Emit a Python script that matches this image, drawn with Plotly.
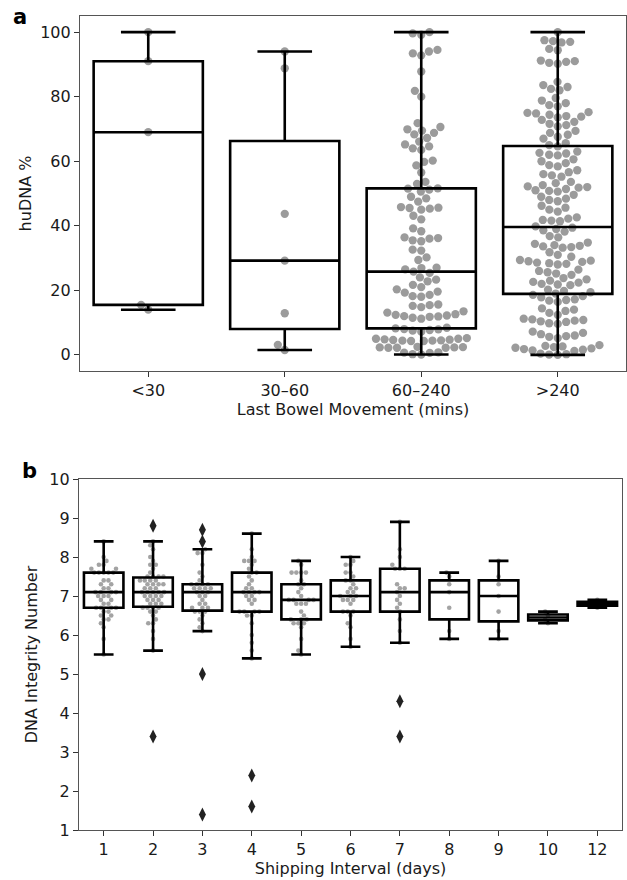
import math
import numpy as np
import plotly.graph_objects as go

# ---------------- data ----------------
cats_a = ["<30", "30–60", "60–240", ">240"]
a_lt30 = [100.0, 91.0, 69.0, 15.5, 14.0]
a_30_60 = [94.0, 88.8, 43.7, 29.2, 12.9, 3.1, 1.5]
a_60_240 = [
    100.0, 99.6, 99.2,
    94.5, 94.0, 93.4, 92.8,
    87.8,
    81.8, 80.0,
    71.8, 70.6, 69.9, 69.5, 68.8, 68.3, 67.2, 66.1, 65.2, 64.6, 64.0, 63.5,
    60.2, 59.8, 58.7, 56.5,
    53.6, 53.0, 51.5,
    51.6, 51.2, 50.6,
    49.0, 48.5, 47.5,
    45.8, 45.6, 45.5, 45.3, 45.0,
    43.1, 42.0,
    39.2, 38.3,
    36.4, 36.2, 36.0, 35.5, 35.2,
    32.6, 32.3,
    30.2, 29.4,
    27.0, 26.9, 26.5, 25.8, 25.4,
    24.0, 23.3, 22.8, 21.7,
    21.0, 20.3, 19.6, 19.3, 18.6, 18.2, 18.0,
    15.6, 15.4, 15.2, 14.8, 13.5, 13.1, 12.6, 12.4, 12.2, 12.0, 11.9, 11.8, 11.5, 11.2,
    8.4, 8.2, 8.0, 7.9, 7.7, 7.5, 7.2,
    5.2, 5.0, 5.0, 4.8, 4.7, 4.6, 4.5, 4.4, 4.4, 4.3, 4.3,
    2.5, 2.4, 2.3, 2.3, 2.2, 2.2, 2.2,
    0.8, 0.7, 0.6, 0.2, 0.1,
]
a_gt240 = [
    100.0,
    97.5, 97.2, 97.0, 96.8,
    94.8, 94.4,
    91.2, 91.0, 90.8, 90.5, 90.2,
    84.6,
    83.6, 83.0, 82.4, 82.0,
    79.6, 78.8, 78.0, 77.4, 77.0,
    75.2, 75.0, 74.8, 74.4, 74.0, 73.8, 73.6,
    72.8, 72.2, 71.6, 71.2, 70.8,
    69.4, 68.8, 68.2, 67.6, 67.0,
    65.6, 65.0,
    64.6, 63.0, 62.6, 62.4, 62.0, 61.8,
    60.6, 60.0, 59.4, 58.8, 58.4,
    57.2, 56.6, 56.0, 55.6, 55.2,
    53.6, 53.2, 52.6, 52.2, 51.8,
    52.0, 51.4, 51.0, 50.8, 50.6,
    49.6, 49.0, 48.4, 48.0, 47.6,
    46.2, 45.6, 45.0, 44.4,
    42.6, 42.2, 41.8, 41.6, 41.4, 39.8,
    39.4, 39.0, 38.6, 38.2,
    36.8, 36.4,
    34.8, 34.4, 34.0, 33.8, 33.6, 33.4, 33.2,
    31.8, 31.0, 30.4,
    29.4, 29.2, 29.0, 28.8, 28.6, 28.4, 28.2, 28.0,
    26.4, 26.0, 25.6, 25.2, 24.8,
    23.8, 23.4, 23.0, 22.6, 22.4, 22.0, 21.8, 21.6,
    20.2, 19.8, 19.4, 19.0, 18.6, 18.2, 17.8,
    17.2, 17.0, 16.8, 16.4,
    14.4, 14.0, 13.6, 13.0, 12.4,
    11.2, 11.0, 10.8, 10.6, 10.4, 10.2, 9.8, 9.6,
    7.2, 6.8, 6.4, 6.0, 5.8, 5.6, 5.2,
    3.0, 2.8, 2.6, 2.4, 2.2, 2.0, 1.8, 1.6, 1.4, 1.2,
    0.4, 0.2, 0.1, 0.0,
]
groups_a = [a_lt30, a_30_60, a_60_240, a_gt240]
a_yticks = [0, 20, 40, 60, 80, 100]

cats_b = ["1", "2", "3", "4", "5", "6", "7", "8", "9", "10", "12"]
b_d1 = [8.4, 8.0, 7.9, 7.8, 7.8, 7.7, 7.7, 7.6, 7.6, 7.6, 7.6, 7.6, 7.4, 7.4, 7.3, 7.3,
        7.2, 7.2, 7.1, 7.1, 7.1, 7.1, 7.0, 7.0, 7.0, 6.9, 6.9, 6.8, 6.8, 6.7, 6.7, 6.7,
        6.7, 6.6, 6.6, 6.5, 6.5, 6.4, 6.4, 6.3, 6.2, 5.9, 5.5]
b_d2 = [8.8, 8.4, 8.3, 8.2, 8.0, 7.9, 7.8, 7.8, 7.7, 7.6, 7.5, 7.5, 7.5, 7.5, 7.4, 7.4,
        7.4, 7.4, 7.3, 7.3, 7.3, 7.3, 7.2, 7.2, 7.2, 7.1, 7.1, 7.1, 7.1, 7.1, 7.0, 7.0,
        7.0, 7.0, 6.9, 6.9, 6.9, 6.8, 6.8, 6.8, 6.7, 6.7, 6.7, 6.7, 6.6, 6.6, 6.5, 6.4,
        6.3, 6.3, 6.1, 5.9, 5.6, 3.4]
b_d3 = [8.7, 8.4, 8.2, 8.1, 8.1, 7.8, 7.6, 7.5, 7.4, 7.3, 7.3, 7.3, 7.3, 7.2, 7.2, 7.2,
        7.2, 7.1, 7.1, 7.1, 7.0, 7.0, 6.9, 6.8, 6.8, 6.7, 6.7, 6.7, 6.6, 6.6, 6.6, 6.5,
        6.4, 6.3, 6.2, 6.1, 5.0, 1.4]
b_d4 = [8.6, 8.2, 8.0, 7.9, 7.9, 7.9, 7.8, 7.7, 7.6, 7.6, 7.5, 7.4, 7.3, 7.2, 7.2, 7.1,
        7.1, 7.1, 7.0, 7.0, 7.1, 6.9, 6.9, 6.8, 6.6, 6.6, 6.6, 6.6, 6.5, 6.5, 6.3, 6.0,
        5.8, 5.6, 5.4, 2.4, 1.6]
b_d5 = [7.9, 7.8, 7.6, 7.6, 7.6, 7.6, 7.4, 7.3, 7.3, 7.2, 7.1, 7.0, 6.9, 6.9, 6.9, 6.9,
        6.8, 6.8, 6.8, 6.6, 6.5, 6.4, 6.4, 6.4, 6.3, 6.3, 6.3, 6.2, 5.9, 5.6, 5.5]
b_d6 = [8.0, 7.9, 7.8, 7.8, 7.6, 7.6, 7.5, 7.4, 7.4, 7.3, 7.2, 7.2, 7.1, 7.1, 7.0, 7.0,
        7.0, 6.9, 6.9, 6.9, 6.8, 6.6, 6.6, 6.6, 6.5, 6.3, 6.2, 5.9, 5.7]
b_d7 = [8.9, 8.2, 8.0, 7.8, 7.7, 7.7, 7.7, 7.3, 7.2, 7.2, 7.1, 7.0, 6.9, 6.8, 6.7, 6.6,
        6.4, 6.1, 5.8, 4.3, 3.4]
b_d8 = [7.6, 7.5, 7.3, 7.1, 6.7, 6.1, 5.9]
b_d9 = [7.9, 7.5, 7.3, 7.0, 6.6, 6.1, 5.9]
b_d10 = [6.6, 6.5, 6.4, 6.3]
b_d12 = [6.9, 6.8, 6.7]
groups_b = [b_d1, b_d2, b_d3, b_d4, b_d5, b_d6, b_d7, b_d8, b_d9, b_d10, b_d12]
b_yticks = [1, 2, 3, 4, 5, 6, 7, 8, 9, 10]

# ---------------- layout constants ----------------
W, H = 627, 880
A_X = (80, 626)
A_Y = (16, 371)
B_X = (79, 622)
B_Y = (479, 830)
A_YR = [-5, 105]
B_YR = [1, 10]
A_XR = [-0.5, len(cats_a) - 0.5]
B_XR = [-0.5, len(cats_b) - 0.5]
FONT = "DejaVu Sans"
TXT = "#1a1a1a"
FS = 16
DOT_A, DOT_B = 8.3, 4.6
GRAY_A, GRAY_B = "#9b9b9b", "#a3a3a3"


def dom_x(p):
    return [p[0] / W, p[1] / W]


def dom_y(p):
    return [1 - p[1] / H, 1 - p[0] / H]


def beeswarm(vals, d, xs, ys):
    """seaborn-like swarm: returns x offsets in data units"""
    y = np.asarray(vals, float) * ys
    order = np.argsort(y, kind="stable")
    placed = []
    off = np.zeros(len(y))
    for i in order:
        yi = y[i]
        nb = [(px, py) for px, py in placed if abs(py - yi) < d]
        cands = [0.0]
        for px, py in nb:
            dx = math.sqrt(max(d * d - (py - yi) ** 2, 0.0))
            cands += [px - dx, px + dx]
        cands = sorted(cands, key=lambda c: abs(c))
        best = cands[-1]
        for c in cands:
            if all((c - px) ** 2 + (yi - py) ** 2 >= d * d - 1e-6 for px, py in nb):
                best = c
                break
        placed.append((best, yi))
        off[i] = best / xs
    return off


def box_stats(v):
    v = np.sort(np.asarray(v, float))
    q1, med, q3 = np.percentile(v, [25, 50, 75])
    iqr = q3 - q1
    lo, hi = q1 - 1.5 * iqr, q3 + 1.5 * iqr
    inside = v[(v >= lo) & (v <= hi)]
    out = v[(v < lo) | (v > hi)]
    return q1, med, q3, inside.min(), inside.max(), out


fig = go.Figure()


def add_panel(cats, groups, xax, yax, oxax, oyax, dot, gray, xs, ys, lw):
    for i, vals in enumerate(groups):
        off = beeswarm(vals, dot * 1.04, xs, ys)
        fig.add_trace(go.Scatter(
            x=i + off, y=vals, mode="markers", xaxis=xax, yaxis=yax,
            marker=dict(size=dot, color=gray, line=dict(width=0)),
            showlegend=False, hoverinfo="skip"))
    for i, vals in enumerate(groups):
        q1, med, q3, lo, hi, out = box_stats(vals)
        fig.add_trace(go.Box(
            x=[i], q1=[q1], median=[med], q3=[q3], lowerfence=[lo], upperfence=[hi],
            width=0.8, whiskerwidth=0.5, fillcolor="rgba(0,0,0,0)",
            line=dict(color="black", width=lw), boxpoints=False,
            xaxis=oxax, yaxis=oyax, showlegend=False, hoverinfo="skip"))
        if len(out):
            fig.add_trace(go.Scatter(
                x=[i] * len(out), y=out, mode="markers", xaxis=oxax, yaxis=oyax,
                marker=dict(symbol="diamond-tall", size=10, color="#222222", line=dict(width=0)),
                showlegend=False, hoverinfo="skip"))


xs_a = (A_X[1] - A_X[0]) / (A_XR[1] - A_XR[0])
ys_a = (A_Y[1] - A_Y[0]) / (A_YR[1] - A_YR[0])
xs_b = (B_X[1] - B_X[0]) / (B_XR[1] - B_XR[0])
ys_b = (B_Y[1] - B_Y[0]) / (B_YR[1] - B_YR[0])

add_panel(cats_a, groups_a, "x", "y", "x3", "y3", DOT_A, GRAY_A, xs_a, ys_a, 2.6)
add_panel(cats_b, groups_b, "x2", "y2", "x4", "y4", DOT_B, GRAY_B, xs_b, ys_b, 2.6)

axis_common = dict(showline=True, mirror=True, linecolor="#555555", linewidth=1.2,
                   ticks="outside", ticklen=5, tickwidth=1.2, tickcolor="#333333",
                   showgrid=False, zeroline=False, automargin=False,
                   tickfont=dict(family=FONT, size=FS, color=TXT))
title_font = dict(family=FONT, size=FS, color=TXT)
hidden = dict(visible=False, automargin=False, showgrid=False, zeroline=False)

fig.update_layout(
    template="none",
    width=W, height=H, margin=dict(l=0, r=0, t=0, b=0, autoexpand=False),
    paper_bgcolor="white", plot_bgcolor="white", boxmode="overlay",
    font=dict(family=FONT, color=TXT),
    xaxis=dict(domain=dom_x(A_X), range=A_XR, anchor="y", tickvals=list(range(len(cats_a))),
               ticktext=cats_a, title=dict(text="Last Bowel Movement (mins)", font=title_font, standoff=4),
               **axis_common),
    yaxis=dict(domain=dom_y(A_Y), range=A_YR, anchor="x", tickvals=a_yticks,
               title=dict(text="huDNA %", font=title_font, standoff=4), **axis_common),
    xaxis2=dict(domain=dom_x(B_X), range=B_XR, anchor="y2", tickvals=list(range(len(cats_b))),
                ticktext=cats_b, title=dict(text="Shipping Interval (days)", font=title_font, standoff=3),
                **axis_common),
    yaxis2=dict(domain=dom_y(B_Y), range=B_YR, anchor="x2", tickvals=b_yticks,
                title=dict(text="DNA Integrity Number", font=title_font, standoff=7), **axis_common),
    xaxis3=dict(domain=dom_x(A_X), range=A_XR, overlaying="x", anchor="y3", **hidden),
    yaxis3=dict(domain=dom_y(A_Y), range=A_YR, overlaying="y", anchor="x3", **hidden),
    xaxis4=dict(domain=dom_x(B_X), range=B_XR, overlaying="x2", anchor="y4", **hidden),
    yaxis4=dict(domain=dom_y(B_Y), range=B_YR, overlaying="y2", anchor="x4", **hidden),
    annotations=[
        dict(text="<b>a</b>", x=11 / W, y=1 - 31 / H, xref="paper", yref="paper",
             xanchor="left", yanchor="bottom", showarrow=False,
             font=dict(family=FONT, size=21, color="black")),
        dict(text="<b>b</b>", x=20 / W, y=1 - 485 / H, xref="paper", yref="paper",
             xanchor="left", yanchor="bottom", showarrow=False,
             font=dict(family=FONT, size=21, color="black")),
    ],
)

fig.write_html(
    "out.html",
    config={"displayModeBar": False},
    post_script="document.body.style.margin='0px';document.body.style.overflow='hidden';",
)
